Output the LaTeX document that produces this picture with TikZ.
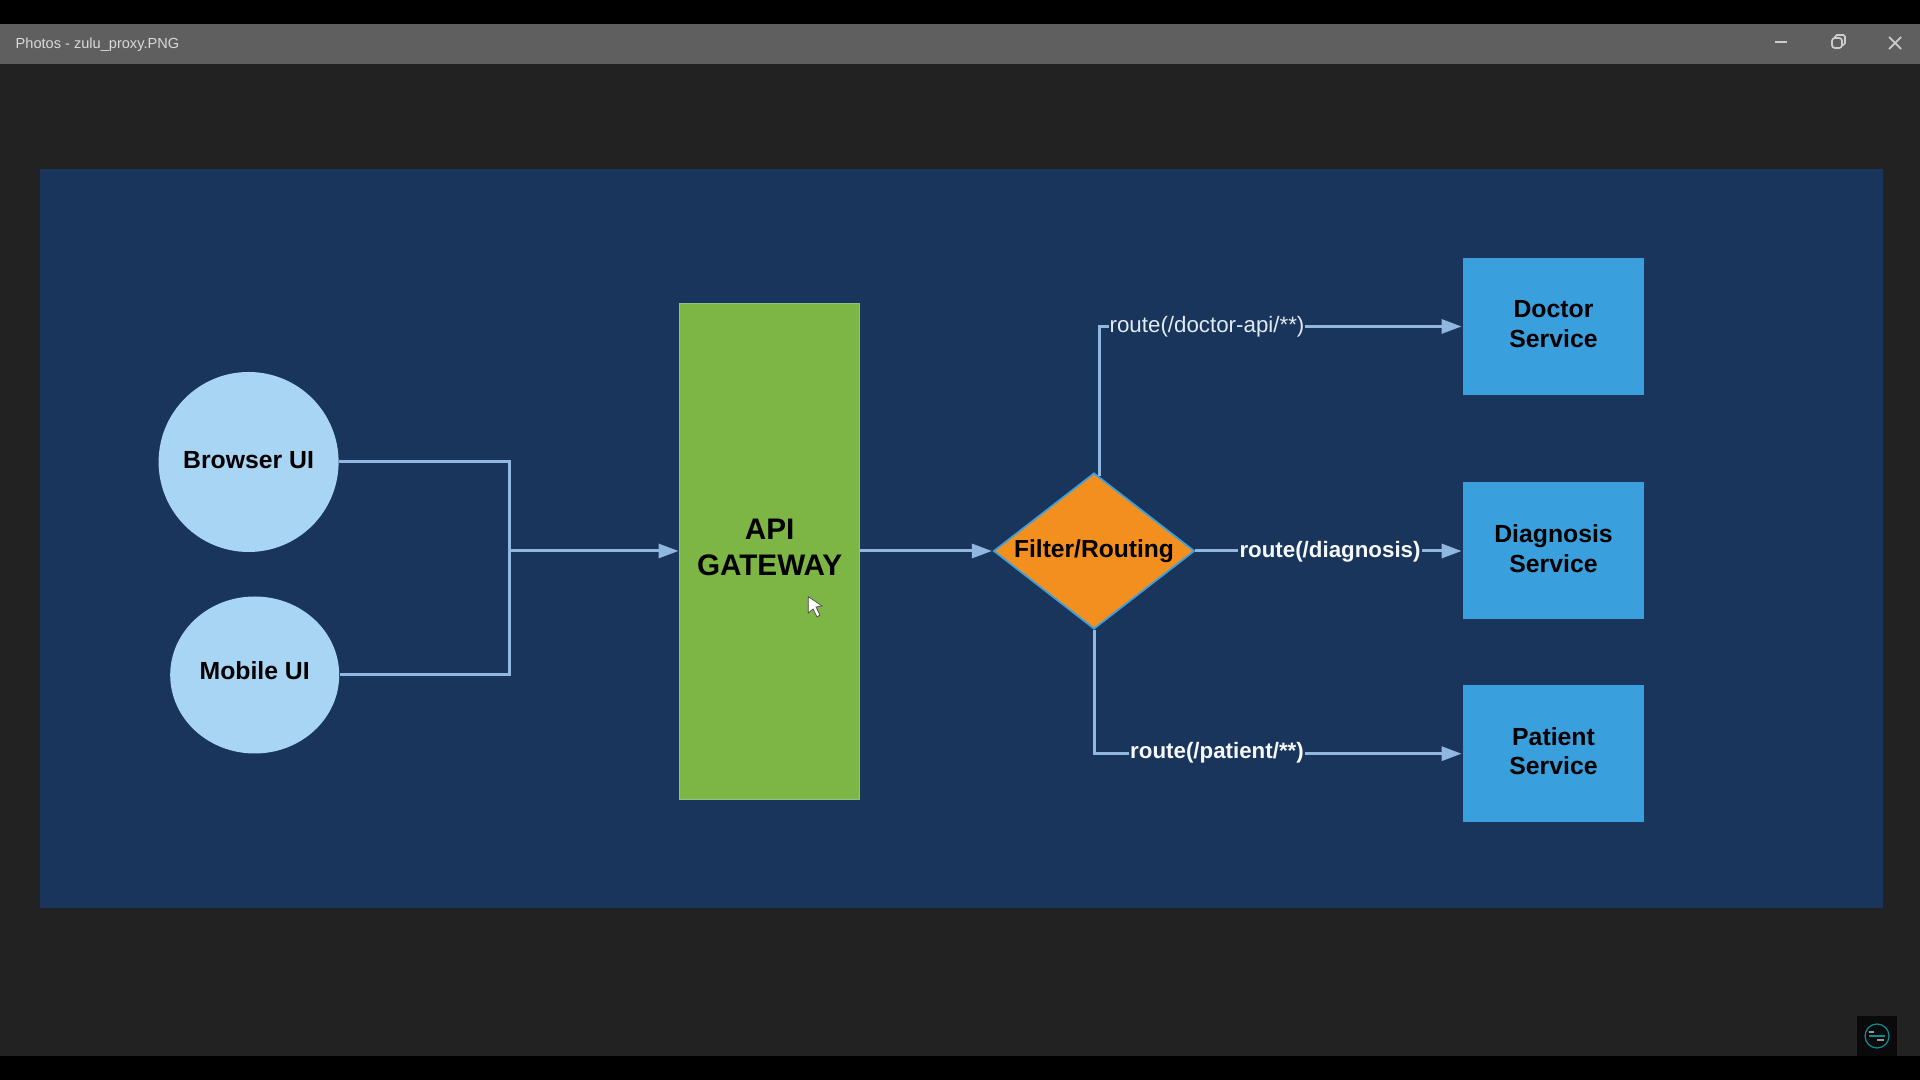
\documentclass[tikz,border=0pt]{standalone}
\usepackage{xcolor}
\usepackage{fontspec}
\setmainfont{Liberation Sans}
\usetikzlibrary{shapes.geometric,arrows.meta}

\definecolor{screenbg}{HTML}{222222}
\definecolor{titlebar}{HTML}{5F5F5F}
\definecolor{panelbg}{HTML}{1A355C}
\definecolor{wirecol}{HTML}{8FB7E0}
\definecolor{clientcol}{HTML}{A9D5F5}
\definecolor{gatewaycol}{HTML}{7DB645}
\definecolor{filtercol}{HTML}{F28F1F}
\definecolor{servicecol}{HTML}{3AA0DD}
\definecolor{logocol}{HTML}{0E8C96}

\tikzset{
  client/.style={ellipse, fill=clientcol, inner xsep=-1pt, inner ysep=0pt, font=\fontsize{7.05}{8.4}\selectfont\bfseries},
  gatewaybox/.style={rectangle, fill=gatewaycol, draw=gatewaycol!60!clientcol, line width=0.2pt, minimum width=1.80cm, minimum height=4.96cm,
    align=center, text depth=2.1pt, font=\fontsize{8.45}{10.1}\selectfont\bfseries},
  filterbox/.style={diamond, fill=filtercol, draw=servicecol, line width=0.5pt, inner sep=0pt, aspect=1.29,
    minimum width=2.01cm, minimum height=1.56cm, font=\fontsize{7}{8.4}\selectfont\bfseries},
  servicebox/.style={rectangle, fill=servicecol, minimum width=1.81cm, minimum height=1.37cm,
    align=center, text depth=1.5pt, font=\fontsize{7.05}{8.4}\selectfont\bfseries},
  wire/.style={draw=wirecol, line width=0.85pt},
  arrowwire/.style={wire, -{Triangle[length=2mm, width=1.4mm]}, shorten >=0.2pt},
  routelabel/.style={fill=panelbg, inner xsep=0.3pt, inner ysep=1pt, text=white!92!wirecol, font=\fontsize{6.35}{8}\selectfont\bfseries},
  winicon/.style={draw=white!80!black, line width=0.5pt}
}

\begin{document}
\begin{tikzpicture}
  \useasboundingbox (0, 0) rectangle (19.2, 10.8);

  % Window
  \fill[black] (0, 0) rectangle (19.2, 10.8);
  \fill[screenbg] (0, 0.24) rectangle (19.2, 10.56);
  \fill[titlebar] (0, 10.16) rectangle (19.2, 10.56);
  \node[anchor=west, inner sep=0pt, text=white!85!black, font=\fontsize{4.15}{6}\selectfont] (title) at (0.15, 10.35) {Photos - zulu\_proxy.PNG};
  \draw[winicon] (17.75, 10.38) -- (17.87, 10.38);
  \draw[winicon, rounded corners=0.8pt] (18.32, 10.32) rectangle (18.42, 10.42);
  \draw[winicon, rounded corners=0.5pt] (18.35, 10.42) -- (18.35, 10.45) -- (18.45, 10.45) -- (18.45, 10.35) -- (18.42, 10.35);
  \draw[winicon] (18.89, 10.31) -- (19.01, 10.43);
  \draw[winicon] (18.89, 10.43) -- (19.01, 10.31);

  % Panel
  \fill[panelbg] (0.40, 1.72) rectangle (18.83, 9.11);

  % Clients
  \node[client, minimum width=1.80cm, minimum height=1.80cm, text depth=1.4pt] (browser) at (2.486, 6.18) {Browser UI};
  \node[client, minimum width=1.69cm, minimum height=1.57cm, text depth=2.8pt] (mobile) at (2.547, 4.05) {Mobile UI};

  % Gateway and filter
  \node[gatewaybox] (gateway) at (7.696, 5.29) {API\\GATEWAY};
  \node[filterbox] (filter) at (10.94, 5.29) {Filter/Routing};

  % Services
  \node[servicebox] (doctor) at (15.535, 7.535) {Doctor\\Service};
  \node[servicebox] (diagnosis) at (15.535, 5.29) {Diagnosis\\Service};
  \node[servicebox] (patient) at (15.535, 3.263) {Patient\\Service};

  % Clients into gateway
  \coordinate (merge) at (5.094, 5.29);
  \draw[wire] (browser.east) -| (merge);
  \draw[wire] (mobile.east) -| (merge);
  \draw[arrowwire] (merge) -- (gateway.west);
  \draw[arrowwire] (gateway.east) -- (filter.west);

  % Routes
  \draw[arrowwire] (filter.86) |- (doctor.west);
  \draw[arrowwire] (filter.east) -- (diagnosis.west);
  \draw[arrowwire] (filter.south) |- (patient.west);
  \node[routelabel, text=white!72!wirecol, font=\fontsize{6.35}{8}\selectfont] (doctorroute) at (12.07, 7.535) {route(/doctor-api/**)};
  \node[routelabel] (diagnosisroute) at (13.30, 5.285) {route(/diagnosis)};
  \node[routelabel] (patientroute) at (12.17, 3.275) {route(/patient/**)};

  % Cursor
  \draw[black!70, fill=white, line width=0.2pt] (8.083, 4.833) -- (8.083, 4.67) -- (8.13, 4.71) -- (8.17, 4.63)
    -- (8.20, 4.65) -- (8.16, 4.73) -- (8.22, 4.74) -- cycle;

  % Corner logo
  \fill[black!70!screenbg] (18.57, 0.24) rectangle (18.97, 0.64);
  \draw[logocol, line width=0.35pt] (18.77, 0.44) circle (0.12);
  \draw[white!60!black, line width=0.3pt] (18.69, 0.48) -- (18.74, 0.48);
  \draw[logocol, line width=0.3pt] (18.69, 0.44) -- (18.85, 0.44);
  \draw[white!60!black, line width=0.3pt] (18.77, 0.40) -- (18.84, 0.40);
\end{tikzpicture}
\end{document}
